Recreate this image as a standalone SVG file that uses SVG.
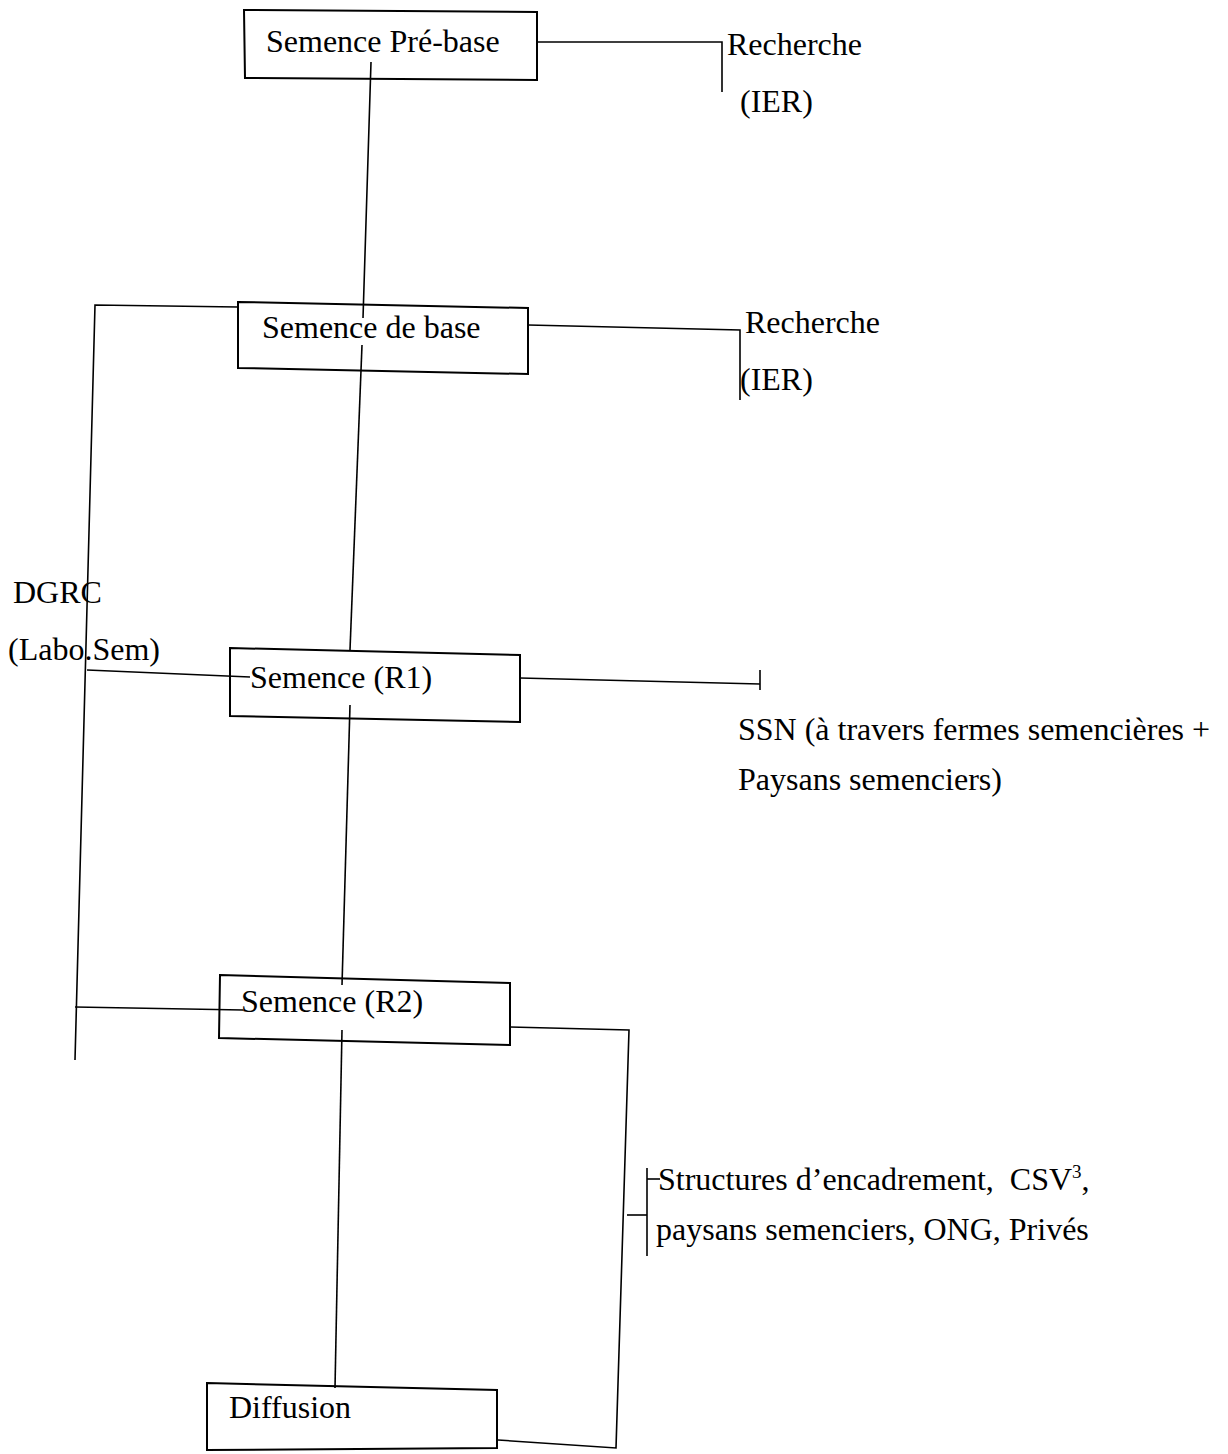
<svg xmlns="http://www.w3.org/2000/svg" width="1228" height="1454" viewBox="0 0 1228 1454">
<style>
.b{fill:none;stroke:#000;stroke-width:2}
.l{fill:none;stroke:#000;stroke-width:1.6}
text{font-family:"Liberation Serif","Times New Roman",serif;font-size:32px;fill:#000;white-space:pre}
</style>
<rect width="1228" height="1454" fill="#fff"/>
<g id="connectors">
<polyline class="l" points="537,42 722,42 722,92"/>
<line class="l" x1="371" y1="62" x2="363" y2="318"/>
<polyline class="l" points="238,307 95,305 75,1060"/>
<polyline class="l" points="528,325 740,330 740,400"/>
<line class="l" x1="362" y1="345" x2="350" y2="650"/>
<line class="l" x1="87" y1="670" x2="250" y2="677"/>
<line class="l" x1="520" y1="678" x2="760" y2="684"/>
<line class="l" x1="760" y1="670" x2="760" y2="690"/>
<line class="l" x1="350" y1="705" x2="342" y2="985"/>
<line class="l" x1="75" y1="1007" x2="243" y2="1010"/>
<line class="l" x1="342" y1="1030" x2="335" y2="1388"/>
<polyline class="l" points="510,1027 629,1030 616,1448 498,1440"/>
<line class="l" x1="627" y1="1215" x2="647" y2="1215"/>
<line class="l" x1="647" y1="1168" x2="647" y2="1256"/>
<line class="l" x1="647" y1="1179" x2="660" y2="1179"/>
</g>
<g id="n1"><polygon class="b" points="244,10 537,12 537,80 245,78"/><text x="266" y="52">Semence Pré-base</text></g>
<g id="n1r"><text x="727" y="55">Recherche</text><text x="740" y="112">(IER)</text></g>
<g id="n2"><polygon class="b" points="238,302 528,308 528,374 238,368"/><text x="262" y="338">Semence de base</text></g>
<g id="n2r"><text x="745" y="333">Recherche</text><text x="740" y="390">(IER)</text></g>
<g id="dgrc"><text x="13" y="603">DGRC</text><text x="8" y="660">(Labo.Sem)</text></g>
<g id="n3"><polygon class="b" points="230,648 520,655 520,722 230,716"/><text x="250" y="688">Semence (R1)</text></g>
<g id="ssn"><text x="738" y="740">SSN (à travers fermes semencières +</text><text x="738" y="790">Paysans semenciers)</text></g>
<g id="n4"><polygon class="b" points="220,975 510,983 510,1045 219,1038"/><text x="241" y="1012">Semence (R2)</text></g>
<g id="struct"><text x="658" y="1190">Structures d’encadrement,  CSV<tspan font-size="19" dy="-12">3</tspan><tspan dy="12">,</tspan></text><text x="656" y="1240">paysans semenciers, ONG, Privés</text></g>
<g id="n5"><polygon class="b" points="207,1383 497,1390 497,1448 207,1450"/><text x="229" y="1418">Diffusion</text></g>
</svg>
